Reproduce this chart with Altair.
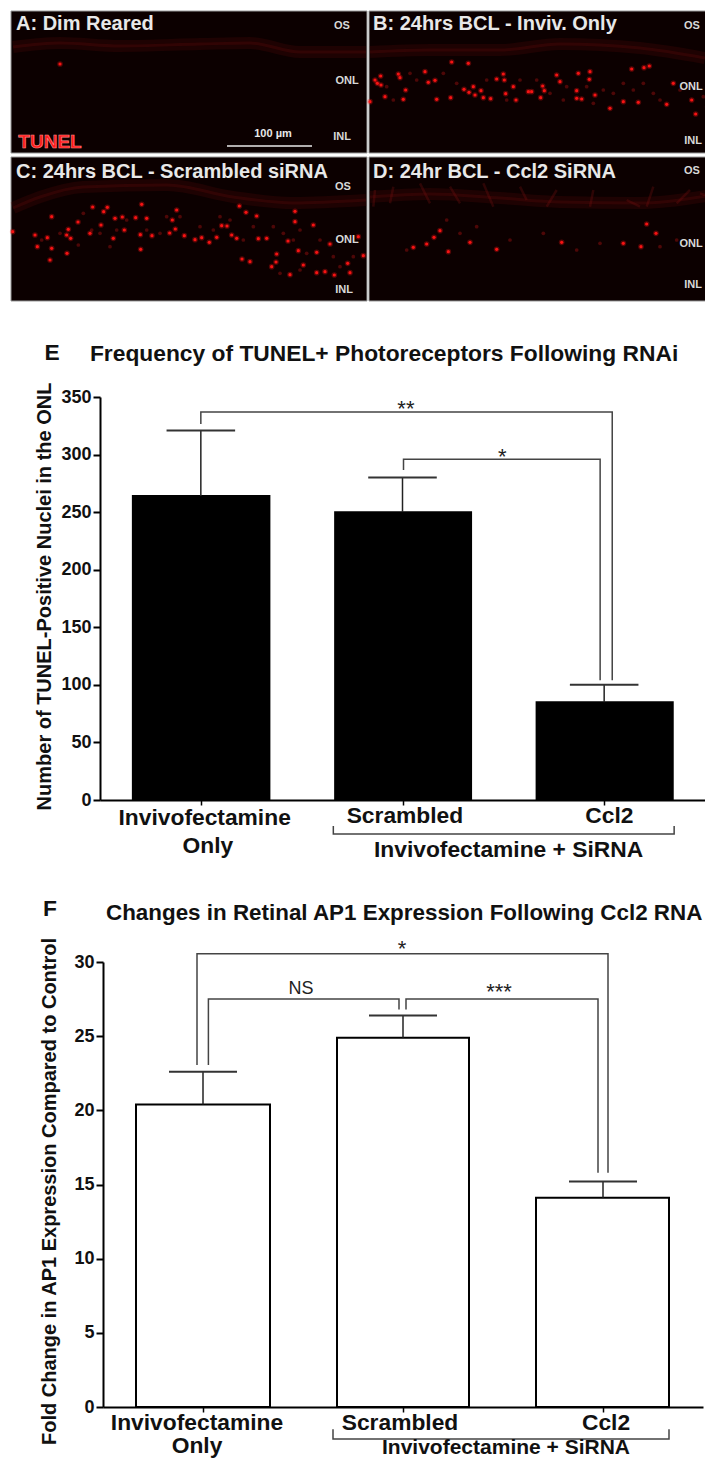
import altair as alt
import pandas as pd

FONT = "Liberation Sans"
VIEW_W = 694
VIEW_H = 1448

# ---------- micrograph panels (image pixel coordinates) ----------
panel_x1 = [11, 369, 11, 369]
panel_x2 = [367, 713, 367, 713]
panel_y1 = [11, 11, 157, 157]
panel_y2 = [153, 153, 301, 301]

spots_a = [(60, 64)]
spots_b_zoom = [(45,240),(52,250),(63,255),(62,228),(115,222),(120,233),(137,270),(75,290),(30,305),(130,298),(195,215),(205,247),(225,241),(230,298),(272,293),(275,186),(325,190),(312,268),(327,277),(345,285),(340,260),(363,272),(370,293),(392,296),(430,222),(433,240),(410,237),(437,281),(460,260),(468,300),(505,275),(515,275),(548,258),(553,272),(542,293),(590,225),(600,245),(655,220),(688,238),(650,272),(650,295),(665,297),(705,285),(815,207),(852,203),(868,198),(940,250),(835,307),(920,313),(995,300),(1007,342),(1055,305),(790,305),(750,325),(690,215)]
spots_c_zoom = [(38,695),(155,650),(205,688),(278,621),(311,635),(322,622),(303,675),(234,666),(425,613),(367,651),(407,653),(440,655),(517,660),(530,630),(526,687),(509,699),(421,704),(456,707),(373,690),(200,705),(212,715),(201,760),(155,745),(142,713),(112,740),(105,705),(553,707),(585,719),(605,713),(628,727),(650,712),(665,677),(681,678),(695,705),(710,715),(718,618),(738,637),(770,648),(775,716),(800,715),(864,723),(885,634),(885,665),(940,675),(990,732),(950,757),(895,752),(830,762),(828,786),(815,800),(870,824),(910,795),(950,818),(975,815),(1003,825),(1043,790),(1050,818),(1090,767),(1075,710),(726,777),(750,785),(422,748),(345,655),(340,715),(270,700),(150,780)]
spots_d_zoom = [(222,712),(240,692),(200,732),(160,742),(265,755),(330,727),(410,748),(605,727),(860,672),(843,740),(888,700),(790,730)]

dim_b_zoom = [(80,260),(100,300),(170,240),(250,220),(290,250),(380,240),(480,240),(530,240),(570,280),(620,260),(680,260),(730,270),(760,280),(790,250),(820,270),(850,250),(880,280),(900,300),(960,270),(1030,290),(1040,320),(700,310),(610,300),(440,300),(150,220)]
dim_d_zoom = [(300,700),(350,680),(450,720),(550,700),(650,750),(720,730),(900,740),(950,720),(140,750),(260,660)]
dim_c_zoom = [(125,720),(235,735),(275,690),(300,700),(350,690),(380,660),(440,690),(480,700),(540,650),(600,680),(640,690),(660,650),(690,660),(730,720),(760,680),(820,680),(850,700),(880,720),(900,690),(920,760),(960,720),(1000,770),(1020,800),(1060,770),(840,820),(900,810),(500,650),(330,740),(180,700),(250,640)]

spot_x = [p[0] for p in spots_a] + [360 + p[0] / 3 for p in spots_b_zoom + spots_d_zoom] + [p[0] / 3 for p in spots_c_zoom]
spot_y = [p[1] for p in spots_a] + [p[1] / 3 for p in spots_b_zoom + spots_d_zoom] + [p[1] / 3 for p in spots_c_zoom]
dim_x = [360 + p[0] / 3 for p in dim_b_zoom + dim_d_zoom] + [p[0] / 3 for p in dim_c_zoom]
dim_y = [p[1] / 3 for p in dim_b_zoom + dim_d_zoom] + [p[1] / 3 for p in dim_c_zoom]

band_a = [(13,47),(60,43),(120,46),(200,44),(250,43),(300,52),(366,52)]
band_b = [(370,52),(430,50),(500,50),(560,44),(640,48),(705,58)]
band_c = [(13,208),(40,197),(83,187),(167,185),(233,197),(293,203),(366,200)]
band_d = [(370,197),(430,194),(500,198),(560,202),(640,203),(712,195)]
strands_d_zoom = [(100,560,90,610),(180,550,210,610),(270,560,300,610),(370,550,400,620),(480,560,500,600),(590,570,560,620),(700,570,690,620),(800,600,840,620),(880,560,860,620),(950,610,990,570),(1020,580,1050,590),(45,570,40,620)]

micro_labels = ["A: Dim Reared", "B: 24hrs BCL - Inviv. Only", "C: 24hrs BCL - Scrambled siRNA", "D: 24hr BCL - Ccl2 SiRNA"]
micro_label_x = [16, 373, 16, 373]
micro_label_y = [24, 24, 172, 172]
layer_labels = ["OS", "ONL", "INL", "OS", "ONL", "INL", "OS", "ONL", "INL", "OS", "ONL", "INL"]
layer_x = [342, 347, 342, 692, 691, 693, 343, 347, 344, 692, 691, 693]
layer_y = [26, 81, 137, 26, 87, 141, 187, 240, 290, 171, 244, 285]

# ---------- panel E ----------
e_left = [0.163, 1.166, 2.165]
e_right = [0.840, 1.840, 2.840]
e_center = [0.5, 1.5, 2.5]
e_values = [264, 250, 85]
e_errors = [321, 280, 100]
e_brackets = [
    [(0.5, 326.5), (0.5, 337), (2.54, 337), (2.54, 104)],
    [(1.505, 286.6), (1.505, 296), (2.48, 296), (2.48, 104)],
]
e_under = [(1.157, -22.6), (1.157, -29.5), (2.847, -29.5), (2.847, -22.6)]
e_text = ["Frequency of TUNEL+ Photoreceptors Following RNAi", "E", "Invivofectamine", "Only", "Scrambled", "Ccl2", "Invivofectamine + SiRNA"]
e_text_x = [-0.05, -0.237, 0.519, 0.535, 1.512, 2.526, 2.026]
e_text_y = [387.3, 388, -15.6, -40, -13.9, -13.9, -43.4]
e_text_size = [22.8, 22.8, 22.8, 22.8, 22.8, 22.8, 22.8]
e_stars = ["**", "*"]
e_stars_x = [1.517, 1.995]
e_stars_y = [340, 298]
e_stars_size = [22, 22]

# ---------- panel F ----------
f_left = [0.165, 1.17, 2.165]
f_right = [0.835, 1.83, 2.83]
f_center = [0.5, 1.5, 2.5]
f_values = [20.4, 24.9, 14.1]
f_errors = [22.6, 26.4, 15.2]
f_brackets = [
    [(0.47, 23.05), (0.47, 30.55), (2.525, 30.55), (2.525, 15.8)],
    [(0.527, 23.05), (0.527, 27.5), (1.48, 27.5), (1.48, 26.8)],
    [(1.515, 26.8), (1.515, 27.5), (2.475, 27.5), (2.475, 15.8)],
]
f_under = [(1.15, -1.5), (1.15, -2.15), (2.83, -2.15), (2.83, -1.5)]
f_text = ["Changes in Retinal AP1 Expression Following Ccl2 RNA", "F", "Invivofectamine", "Only", "Scrambled", "Ccl2", "Invivofectamine + SiRNA"]
f_text_x = [0.015, -0.265, 0.47, 0.47, 1.485, 2.515, 2.015]
f_text_y = [33.3, 33.6, -1.08, -2.65, -1.08, -1.08, -2.78]
f_text_size = [22.4, 22.8, 22.8, 22.8, 22.8, 22.8, 21]
f_stars = ["*", "NS", "***"]
f_stars_x = [1.495, 0.99, 1.98]
f_stars_y = [30.85, 28.2, 27.95]
f_stars_size = [22, 18, 22]


def micro_chart():
    xs = alt.Scale(domain=[11, 713], range=[0, 702])
    ys = alt.Scale(domain=[301, 11], range=[290, 0])
    X = lambda f: alt.X(f, type="quantitative", scale=xs, axis=None)
    Y = lambda f: alt.Y(f, type="quantitative", scale=ys, axis=None)
    panels = pd.DataFrame({"x": panel_x1, "x2": panel_x2, "y": panel_y1, "y2": panel_y2})
    bg = alt.Chart(panels).mark_rect(fill="#0c0000", stroke="#9a9a9a", strokeWidth=1).encode(
        x=X("x"), x2="x2", y=Y("y"), y2="y2")
    rows = []
    for i, band in enumerate([band_a, band_b, band_c, band_d]):
        for j, (x, y) in enumerate(band):
            rows.append({"b": i, "i": j, "x": x, "y": y})
    band_df = pd.DataFrame(rows)
    wide = alt.Chart(band_df).mark_line(color="#6a0a0a", strokeWidth=12, opacity=0.2, interpolate="monotone").encode(
        x=X("x"), y=Y("y"), detail="b:N", order="i:Q")
    thin = alt.Chart(band_df).mark_line(color="#6a0a0a", strokeWidth=3, opacity=0.25, interpolate="monotone").encode(
        x=X("x"), y=Y("y"), detail="b:N", order="i:Q")
    srows = []
    for i, (x1, y1, x2, y2) in enumerate(strands_d_zoom):
        srows.append({"x": 360 + x1 / 3, "y": y1 / 3, "x2": 360 + x2 / 3, "y2": y2 / 3})
    strands = alt.Chart(pd.DataFrame(srows)).mark_rule(color="#7a1010", strokeWidth=2.5, opacity=0.3).encode(
        x=X("x"), x2="x2", y=Y("y"), y2="y2")
    sp = pd.DataFrame({"x": spot_x, "y": spot_y})
    dm = pd.DataFrame({"x": dim_x, "y": dim_y})
    dim = alt.Chart(dm).mark_point(filled=True, color="#a01010", size=14, opacity=0.45).encode(x=X("x"), y=Y("y"))
    halo = alt.Chart(sp).mark_point(filled=True, color="#ff1010", size=32, opacity=0.3).encode(x=X("x"), y=Y("y"))
    core = alt.Chart(sp).mark_point(filled=True, color="#ff1414", size=10, opacity=0.95).encode(x=X("x"), y=Y("y"))
    lab = alt.Chart(pd.DataFrame({"t": micro_labels, "x": micro_label_x, "y": micro_label_y})).mark_text(
        font=FONT, fontWeight="bold", fontSize=20, color="#e8e8e8", align="left", baseline="middle").encode(
        x=X("x"), y=Y("y"), text="t:N")
    lay = alt.Chart(pd.DataFrame({"t": layer_labels, "x": layer_x, "y": layer_y})).mark_text(
        font=FONT, fontWeight="bold", fontSize=11, color="#d8d8d8", align="center", baseline="middle").encode(
        x=X("x"), y=Y("y"), text="t:N")
    tunel = alt.Chart(pd.DataFrame({"t": ["TUNEL"], "x": [50], "y": [142]})).mark_text(
        font=FONT, fontWeight="bold", fontSize=19, color="#ff1a1a", stroke="#ff8a8a", strokeWidth=0.6).encode(
        x=X("x"), y=Y("y"), text="t:N")
    bar = alt.Chart(pd.DataFrame({"x": [227], "x2": [312], "y": [146]})).mark_rule(color="#e8e8e8", strokeWidth=1.5).encode(
        x=X("x"), x2="x2", y=Y("y"))
    bar_t = alt.Chart(pd.DataFrame({"t": ["100 \u00b5m"], "x": [273], "y": [134]})).mark_text(
        font=FONT, fontWeight="bold", fontSize=11, color="#e8e8e8").encode(x=X("x"), y=Y("y"), text="t:N")
    return alt.layer(bg, wide, thin, strands, dim, halo, core, lab, lay, tunel, bar, bar_t)


def bar_chart(left, right, center, values, errors, brackets, under, text, tx, ty, tsize, stars, sx, sy, ssize,
              x_range, y_domain, y_range, y_ticks, ytitle, fill, title_pad, title_y):
    xs = alt.Scale(domain=[0, 3], range=x_range)
    ys = alt.Scale(domain=y_domain, range=y_range, nice=False)
    y_axis = alt.Axis(orient="left", values=y_ticks, offset=-x_range[0], title=ytitle, grid=False, domainColor="black", domainWidth=2,
                      tickColor="black", tickWidth=2, tickSize=7, labelFont=FONT, labelFontWeight="bold", labelFontSize=18,
                      labelColor="#111", labelPadding=2, titleFont=FONT, titleFontWeight="bold", titleFontSize=20,
                      titleColor="#111", titlePadding=title_pad, titleY=title_y)
    x_axis = alt.Axis(orient="bottom", values=center, offset=-(VIEW_H - y_range[0]), labels=False, title=None, grid=False,
                      domainColor="black", domainWidth=2, tickColor="black", tickWidth=1.5, tickSize=5)
    X = lambda f: alt.X(f, type="quantitative", scale=xs, axis=x_axis)
    Y = lambda f: alt.Y(f, type="quantitative", scale=ys, axis=y_axis)

    d = pd.DataFrame({"l": left, "r": right, "c": center, "v": values, "e": errors, "zero": [0, 0, 0]})
    cap = [0.17, 0.17, 0.17]
    d["cl"] = [c - w for c, w in zip(center, cap)]
    d["cr"] = [c + w for c, w in zip(center, cap)]
    bars = alt.Chart(d).mark_bar(fill=fill, stroke="black", strokeWidth=2).encode(
        x=X("l"), x2="r", y=Y("v"), y2="zero")
    stem = alt.Chart(d).mark_rule(color="#222", strokeWidth=1.5).encode(x=X("c"), y=Y("v"), y2="e")
    caps = alt.Chart(d).mark_rule(color="#333", strokeWidth=2).encode(x=X("cl"), x2="cr", y=Y("e"))

    rows = []
    for i, br in enumerate(list(brackets) + [under]):
        for j, (x, y) in enumerate(br):
            rows.append({"b": i, "i": j, "x": x, "y": y})
    br = alt.Chart(pd.DataFrame(rows)).mark_line(color="#444", strokeWidth=1.5).encode(
        x=X("x"), y=Y("y"), detail="b:N", order="i:Q")

    t = pd.DataFrame({"t": text, "x": tx, "y": ty, "s": tsize})
    layers = [bars, stem, caps, br]
    layers.append(alt.Chart(t.iloc[:1]).mark_text(font=FONT, fontWeight="bold", color="#111", align="left", baseline="middle").encode(
        x=X("x"), y=Y("y"), text="t:N", size=alt.Size("s:Q", scale=None)))
    layers.append(alt.Chart(t.iloc[1:]).mark_text(font=FONT, fontWeight="bold", color="#111", align="center", baseline="middle").encode(
        x=X("x"), y=Y("y"), text="t:N", size=alt.Size("s:Q", scale=None)))
    st = pd.DataFrame({"t": stars, "x": sx, "y": sy, "s": ssize})
    layers.append(alt.Chart(st).mark_text(font=FONT, color="#222", baseline="middle").encode(
        x=X("x"), y=Y("y"), text="t:N", size=alt.Size("s:Q", scale=None)))
    return alt.layer(*layers)


e_chart = bar_chart(e_left, e_right, e_center, e_values, e_errors, e_brackets, e_under, e_text, e_text_x, e_text_y,
                    e_text_size, e_stars, e_stars_x, e_stars_y, e_stars_size, [89, 694], [0, 350], [789, 386],
                    [0, 50, 100, 150, 200, 250, 300, 350],
                    "Number of TUNEL-Positive Nuclei in the ONL", "black", 6, 585)
f_chart = bar_chart(f_left, f_right, f_center, f_values, f_errors, f_brackets, f_under, f_text, f_text_x, f_text_y,
                    f_text_size, f_stars, f_stars_x, f_stars_y, f_stars_size, [92, 692], [0, 30], [1396, 951],
                    [0, 5, 10, 15, 20, 25, 30],
                    "Fold Change in AP1 Expression Compared to Control", "white", 14, 1180)

chart = alt.layer(micro_chart(), e_chart, f_chart).resolve_scale(x="independent", y="independent").properties(
    width=VIEW_W, height=VIEW_H,
    autosize=alt.AutoSizeParams(type="none"),
    padding={"left": 3, "top": 3, "right": 0, "bottom": 0},
).configure_view(stroke=None)
chart.save("out.html", embed_options={"renderer": "svg", "actions": False})
